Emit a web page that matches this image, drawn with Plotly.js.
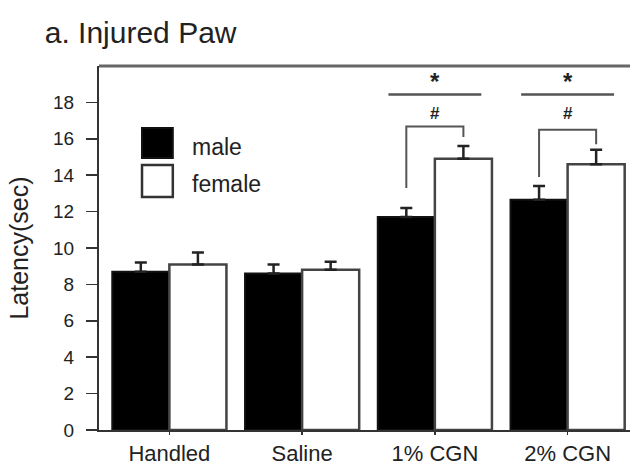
<!DOCTYPE html>
<html>
<head>
<meta charset="utf-8">
<script src="https://cdn.plot.ly/plotly-3.0.1.min.js"></script>
<style>html,body{margin:0;padding:0;background:#fff;}#chart{width:630px;height:465px;}</style>
</head>
<body>
<div id="chart"></div>
<script>
// ---- data ----
const categories = ["Handled", "Saline", "1% CGN", "2% CGN"];
const seriesNames = ["male", "female"];
const maleValues = [8.7, 8.6, 11.7, 12.65];
const maleErrors = [0.5, 0.5, 0.5, 0.75];
const femaleValues = [9.1, 8.8, 14.9, 14.6];
const femaleErrors = [0.65, 0.45, 0.7, 0.8];
const yTicks = [0, 2, 4, 6, 8, 10, 12, 14, 16, 18];
const starLabel = "*";
const hashLabel = "#";
// significance marks: group index pairs
const sigGroups = [2, 3];
const sigLineY = 18.44;
const starY = 19.15;
const hashY = 17.4;
const bracketTop = [16.68, 16.5];
const bracketLeftBottom = [13.3, 13.9];
const bracketRightBottom = [16.1, 15.7];

const txt = '#222';
const font = 'Liberation Sans, Arial, sans-serif';

const male = {
  type: 'bar', name: seriesNames[0], x: categories, y: maleValues,
  marker: {color: '#000', line: {color: '#111', width: 2}},
  error_y: {type: 'data', symmetric: false, array: maleErrors,
            arrayminus: maleErrors.map(() => 0), color: '#222', thickness: 2.5, width: 6},
  showlegend: false
};
const female = {
  type: 'bar', name: seriesNames[1], x: categories, y: femaleValues,
  marker: {color: '#fff', line: {color: '#444', width: 2.5}},
  error_y: {type: 'data', symmetric: false, array: femaleErrors,
            arrayminus: femaleErrors.map(() => 0), color: '#222', thickness: 2.5, width: 6},
  showlegend: false
};

const barOffset = 0.215;
const shapes = [
  {type: 'line', xref: 'paper', yref: 'paper', x0: 0, x1: 1, y0: 1, y1: 1,
   line: {color: '#666', width: 3}},
  // legend boxes
  {type: 'rect', xref: 'paper', yref: 'paper', x0: 0.081, x1: 0.139, y0: 0.747, y1: 0.830,
   fillcolor: '#000', line: {color: '#111', width: 2}},
  {type: 'rect', xref: 'paper', yref: 'paper', x0: 0.081, x1: 0.139, y0: 0.640, y1: 0.728,
   fillcolor: '#fff', line: {color: '#333', width: 2.5}}
];
const annotations = [
  {xref: 'paper', yref: 'paper', x: 0.171, y: 0.777, xanchor: 'left', yanchor: 'middle',
   text: seriesNames[0], showarrow: false, font: {family: font, size: 23, color: txt}},
  {xref: 'paper', yref: 'paper', x: 0.171, y: 0.676, xanchor: 'left', yanchor: 'middle',
   text: seriesNames[1], showarrow: false, font: {family: font, size: 23, color: txt}}
];
sigGroups.forEach((g, i) => {
  const xl = g - barOffset, xr = g + barOffset;
  shapes.push({type: 'line', xref: 'x', yref: 'y', x0: g - 0.35, x1: g + 0.35, y0: sigLineY, y1: sigLineY,
               line: {color: '#555', width: 2.5}});
  shapes.push({type: 'path', xref: 'x', yref: 'y',
               path: `M ${xl} ${bracketLeftBottom[i]} L ${xl} ${bracketTop[i]} L ${xr} ${bracketTop[i]} L ${xr} ${bracketRightBottom[i]}`,
               line: {color: '#555', width: 2}});
  annotations.push({xref: 'x', yref: 'y', x: g, y: starY, text: '<b>' + starLabel + '</b>', showarrow: false,
                    font: {family: font, size: 24, color: txt}});
  annotations.push({xref: 'x', yref: 'y', x: g, y: hashY, text: '<b>' + hashLabel + '</b>', showarrow: false,
                    font: {family: font, size: 17, color: txt}});
});

const layout = {
  width: 630, height: 465,
  margin: {l: 99, r: 0, t: 66, b: 35},
  paper_bgcolor: '#fff', plot_bgcolor: '#fff',
  barmode: 'group', bargap: 0.14, bargroupgap: 0,
  title: {text: 'a. Injured Paw', x: 0.071, xanchor: 'left', y: 0.93, yanchor: 'middle',
          font: {family: font, size: 30, color: txt}},
  xaxis: {type: 'category', range: [-0.53, 3.47], showline: true, linecolor: '#333', linewidth: 2,
          ticks: 'outside', ticklen: 3, tickwidth: 1.5, tickcolor: '#333',
          ticklabelstandoff: 0,
          tickfont: {family: font, size: 22, color: txt}, showgrid: false, zeroline: false, fixedrange: true},
  yaxis: {range: [0, 20], tickvals: yTicks, showline: true, linecolor: '#333', linewidth: 2,
          ticks: 'outside', ticklen: 11, tickwidth: 1.5, tickcolor: '#333',
          ticklabelstandoff: 8,
          tickfont: {family: font, size: 19, color: txt}, showgrid: false, zeroline: false,
          title: {text: 'Latency(sec)', standoff: 17, font: {family: font, size: 25, color: txt}}},
  shapes: shapes,
  annotations: annotations,
  showlegend: false
};

Plotly.newPlot('chart', [male, female], layout, {displayModeBar: false, staticPlot: true});
</script>
</body>
</html>
